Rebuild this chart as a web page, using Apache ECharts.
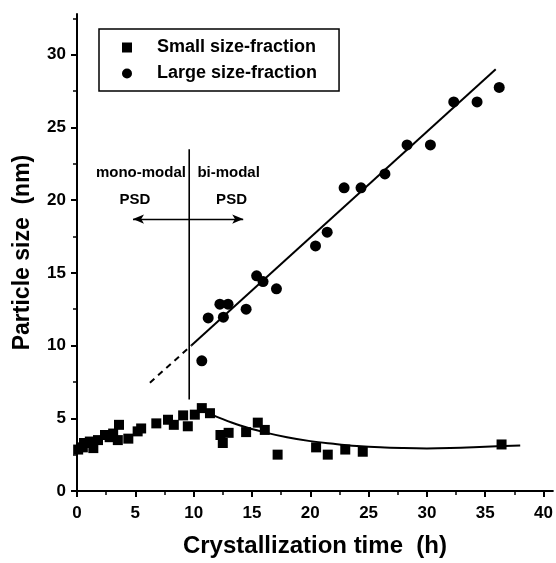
<!DOCTYPE html>
<html><head><meta charset="utf-8">
<script src="https://cdn.jsdelivr.net/npm/echarts@6/dist/echarts.min.js"></script>
<style>html,body{margin:0;padding:0;background:#fff}#c{width:556px;height:563px}</style>
</head><body><div id="c"></div>
<script>
// ---- data ----
const smallX = [0.1, 0.5, 0.6, 1.1, 1.4, 1.8, 2.4, 2.8, 3.1, 3.5, 3.6, 4.4, 5.2, 5.5, 6.8, 7.8, 8.3, 9.1, 9.5, 10.1, 10.7, 11.4, 12.3, 12.5, 13.0, 14.5, 15.5, 16.1, 17.2, 20.5, 21.5, 23.0, 24.5, 36.4];
const smallY = [2.85, 3.0, 3.3, 3.4, 2.95, 3.5, 3.85, 3.7, 3.95, 3.5, 4.55, 3.6, 4.1, 4.3, 4.65, 4.9, 4.55, 5.2, 4.45, 5.25, 5.7, 5.35, 3.85, 3.3, 4.0, 4.05, 4.7, 4.2, 2.5, 3.0, 2.5, 2.85, 2.7, 3.2];
const largeX = [10.7, 11.25, 12.25, 12.95, 12.55, 14.5, 15.4, 15.95, 17.1, 20.45, 21.45, 22.9, 24.35, 26.4, 28.3, 30.3, 32.3, 34.3, 36.2];
const largeY = [8.95, 11.9, 12.85, 12.85, 11.95, 12.5, 14.8, 14.4, 13.9, 16.85, 17.8, 20.85, 20.85, 21.8, 23.8, 23.8, 26.75, 26.75, 27.75];
// fitted curve for the small fraction
const fitSmallX = [10.8, 12, 14, 16, 18, 20, 22, 24, 26, 28, 30, 32, 34, 36, 38];
const fitSmallY = [5.5, 5.1, 4.5, 4.05, 3.7, 3.43, 3.25, 3.1, 3.0, 2.95, 2.93, 2.95, 3.0, 3.07, 3.13];
// fitted straight line for the large fraction (dashed extrapolation + solid)
const fitLargeDashX = [6.25, 9.8];
const fitLargeDashY = [7.45, 10.0];
const fitLargeSolidX = [9.8, 35.9];
const fitLargeSolidY = [10.0, 29.0];
// boundary between mono- and bi-modal regimes
const boundaryX = [9.62, 9.62];
const boundaryY = [6.3, 23.5];
const arrowX = [4.8, 14.25];
const arrowY = [18.7, 18.7];
const noteText = ['mono-modal', 'bi-modal', 'PSD', 'PSD'];
const noteX = [5.48, 13.0, 4.97, 13.25];
const noteY = [21.9, 21.9, 20.0, 20.0];
// axes
const xMajor = [0, 5, 10, 15, 20, 25, 30, 35, 40];
const xMinor = [2.5, 7.5, 12.5, 17.5, 22.5, 27.5, 32.5, 37.5];
const yMajor = [0, 5, 10, 15, 20, 25, 30];
const yMinor = [2.5, 7.5, 12.5, 17.5, 22.5, 27.5, 32.5];
const xMax = 40.8, yMax = 32.8;
const xName = 'Crystallization time  (h)';
const yName = 'Particle size  (nm)';
const smallName = 'Small size-fraction';
const largeName = 'Large size-fraction';

const zip = (a, b) => a.map((v, i) => [v, b[i]]);
const FONT = 'Liberation Sans, Arial, Helvetica, sans-serif';

const chart = echarts.init(document.getElementById('c'), null, {renderer: 'canvas'});
chart.setOption({
  backgroundColor: '#fff',
  animation: false,
  textStyle: {fontFamily: FONT, color: '#000'},
  grid: {left: 77, right: 3, top: 14, bottom: 70, containLabel: false},
  legend: {
    left: 99, top: 29, orient: 'vertical',
    borderColor: '#000', borderWidth: 1.5,
    padding: [9.5, 22, 8.5, 23],
    itemGap: 8, itemWidth: 10, itemHeight: 10,
    selectedMode: false,
    textStyle: {fontSize: 18, fontWeight: 'bold', color: '#000', fontFamily: FONT, lineHeight: 17, padding: [0, 0, 0, 20]},
    data: [{name: smallName, icon: 'rect'}, {name: largeName, icon: 'circle'}]
  },
  xAxis: [{
    type: 'value', min: 0, max: xMax, position: 'bottom',
    name: xName, nameLocation: 'middle', nameGap: 43,
    nameTextStyle: {fontSize: 24, fontWeight: 'bold', color: '#000', fontFamily: FONT},
    axisLine: {show: true, onZero: false, lineStyle: {color: '#000', width: 2}},
    axisTick: {show: true, inside: false, length: 6, lineStyle: {color: '#000', width: 2}, customValues: xMajor},
    axisLabel: {show: true, margin: 14, fontSize: 17, fontWeight: 'bold', color: '#000', fontFamily: FONT, customValues: xMajor},
    splitLine: {show: false}
  }, {
    type: 'value', min: 0, max: xMax, position: 'bottom',
    axisLine: {show: false},
    axisTick: {show: true, length: 4, lineStyle: {color: '#000', width: 1.5}, customValues: xMinor},
    axisLabel: {show: false},
    splitLine: {show: false}
  }],
  yAxis: [{
    type: 'value', min: 0, max: yMax, position: 'left',
    name: yName, nameLocation: 'middle', nameGap: 43, nameRotate: 90,
    nameTextStyle: {fontSize: 23, fontWeight: 'bold', color: '#000', fontFamily: FONT},
    axisLine: {show: true, onZero: false, lineStyle: {color: '#000', width: 2}},
    axisTick: {show: true, inside: false, length: 6, lineStyle: {color: '#000', width: 2}, customValues: yMajor},
    axisLabel: {show: true, margin: 11, fontSize: 17, fontWeight: 'bold', color: '#000', fontFamily: FONT, customValues: yMajor},
    splitLine: {show: false}
  }, {
    type: 'value', min: 0, max: yMax, position: 'left',
    axisLine: {show: false},
    axisTick: {show: true, length: 4, lineStyle: {color: '#000', width: 1.5}, customValues: yMinor},
    axisLabel: {show: false},
    splitLine: {show: false}
  }],
  series: [
    {
      name: smallName, type: 'scatter', symbol: 'rect', symbolSize: 10,
      itemStyle: {color: '#000', opacity: 1}, data: zip(smallX, smallY), z: 5
    },
    {
      name: largeName, type: 'scatter', symbol: 'circle', symbolSize: 11,
      itemStyle: {color: '#000', opacity: 1}, data: zip(largeX, largeY), z: 5
    },
    {
      name: 'fitSmall', type: 'line', smooth: 0.4, symbol: 'none',
      lineStyle: {color: '#000', width: 2}, data: zip(fitSmallX, fitSmallY), z: 3
    },
    {
      name: 'fitLargeDash', type: 'line', symbol: 'none',
      lineStyle: {color: '#000', width: 2, type: [6, 5]}, data: zip(fitLargeDashX, fitLargeDashY), z: 3
    },
    {
      name: 'fitLargeSolid', type: 'line', symbol: 'none',
      lineStyle: {color: '#000', width: 2}, data: zip(fitLargeSolidX, fitLargeSolidY), z: 3
    },
    {
      name: 'boundary', type: 'line', symbol: 'none',
      lineStyle: {color: '#000', width: 1.6}, data: zip(boundaryX, boundaryY), z: 3,
      markLine: {
        silent: true, symbol: ['arrow', 'arrow'], symbolSize: [7, 11],
        label: {show: false},
        lineStyle: {color: '#000', width: 1.3, type: 'solid'},
        data: [[{coord: [arrowX[0], arrowY[0]]}, {coord: [arrowX[1], arrowY[1]]}]]
      }
    },
    {
      name: 'notes', type: 'scatter', symbolSize: 0, silent: true,
      itemStyle: {color: '#000', opacity: 1},
      data: noteText.map((t, i) => ({value: [noteX[i], noteY[i]], name: t})),
      label: {show: true, position: 'inside', formatter: p => p.name, opacity: 1,
        fontSize: 15, fontWeight: 'bold', color: '#000', fontFamily: FONT}
    }
  ]
});
</script>
</body></html>
